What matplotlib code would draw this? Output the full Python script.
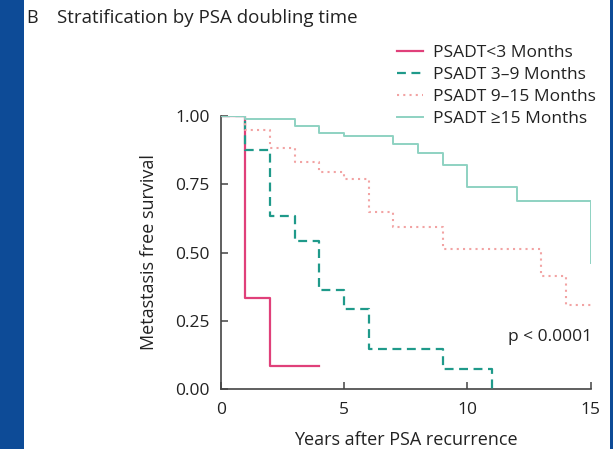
import matplotlib
matplotlib.use("Agg")
import matplotlib.pyplot as plt
from matplotlib.patches import Rectangle

plt.rcParams['font.family'] = ['Open Sans', 'DejaVu Sans']

# Data
t_lt3 = [0, 1, 2, 4]
s_lt3 = [1.0, 0.333, 0.083, 0.083]

t_3_9 = [0, 1, 2, 3, 4, 5, 6, 9, 11]
s_3_9 = [1.0, 0.875, 0.634, 0.542, 0.361, 0.293, 0.146, 0.074, 0.0]

t_9_15 = [0, 1, 2, 3, 4, 5, 6, 7, 9, 13, 14, 15]
s_9_15 = [1.0, 0.95, 0.883, 0.83, 0.795, 0.768, 0.649, 0.594, 0.512, 0.414, 0.307, 0.307]

t_ge15 = [0, 1, 3, 4, 5, 7, 8, 9, 10, 12, 15]
s_ge15 = [1.0, 0.99, 0.962, 0.936, 0.926, 0.896, 0.863, 0.82, 0.74, 0.688, 0.46]

labels = ["PSADT<3 Months", "PSADT 3\u20139 Months", "PSADT 9\u201315 Months", "PSADT \u226515 Months"]
x_ticks = [0, 5, 10, 15]
y_ticks = [0.0, 0.25, 0.5, 0.75, 1.0]
y_ticklabels = ["0.00", "0.25", "0.50", "0.75", "1.00"]

W, H = 613, 449
fig = plt.figure(figsize=(W / 100, H / 100), dpi=100)
fig.patch.set_facecolor('#0d4b97')
fig.patches.append(Rectangle((24 / W, 0), (610 - 24) / W, 1, transform=fig.transFigure,
                             facecolor='white', edgecolor='none', zorder=-10))

ax = fig.add_axes([220.7 / W, 1 - 389 / H, (590.7 - 220.7) / W, (389 - 116) / H])
ax.set_facecolor('none')
ax.set_zorder(2)

l1, = ax.step(t_lt3, s_lt3, where='post', color='#e0407a', lw=1.6, label=labels[0], zorder=3)
l2, = ax.step(t_3_9, s_3_9, where='post', color='#1f9a8a', lw=1.6, ls=(0, (4, 2.5)), label=labels[1], zorder=3)
l3, = ax.step(t_9_15, s_9_15, where='post', color='#f2a3a3', lw=1.5, ls=(0, (1, 2)), label=labels[2], zorder=3)
l4, = ax.step(t_ge15, s_ge15, where='post', color='#8ed2c2', lw=1.4, label=labels[3], zorder=4)

ax.set_xlim(0, 15)
ax.set_ylim(0, 1)
ax.set_xticks(x_ticks)
ax.set_yticks(y_ticks)
ax.set_yticklabels(y_ticklabels)
for s in ['top', 'right']:
    ax.spines[s].set_visible(False)
for s in ['left', 'bottom']:
    ax.spines[s].set_color('#444444')
    ax.spines[s].set_linewidth(1.2)
ax.tick_params(direction='in', length=5, width=1.1, color='#444444', labelsize=12.5,
               labelcolor='#222222')
ax.tick_params(axis='x', pad=9)
ax.tick_params(axis='y', pad=8)
ax.set_xlabel("Years after PSA recurrence", fontsize=13, color='#222222', labelpad=10)
ax.set_ylabel("Metastasis free survival", fontsize=13, color='#222222', labelpad=12)

ax.text(15.05, 0.19, "p < 0.0001", ha='right', va='center', fontsize=12.5, color='#222222')

fig.text(26 / W, 1 - 18 / H, "B", fontsize=13, ha='left', va='center', color='#222222')
fig.text(57 / W, 1 - 18 / H, "Stratification by PSA doubling time", fontsize=13.5,
         ha='left', va='center', color='#222222')

leg = fig.legend(handles=[l1, l2, l3, l4], loc='upper left', bbox_to_anchor=(397 / W, 1 - 45 / H),
                 frameon=False, fontsize=12.5, handlelength=1.5, handletextpad=0.55,
                 labelspacing=0.33, borderpad=0, borderaxespad=0)
leg.set_zorder(5)
for t in leg.get_texts():
    t.set_color('#222222')

fig.savefig("out.png", dpi=100)
